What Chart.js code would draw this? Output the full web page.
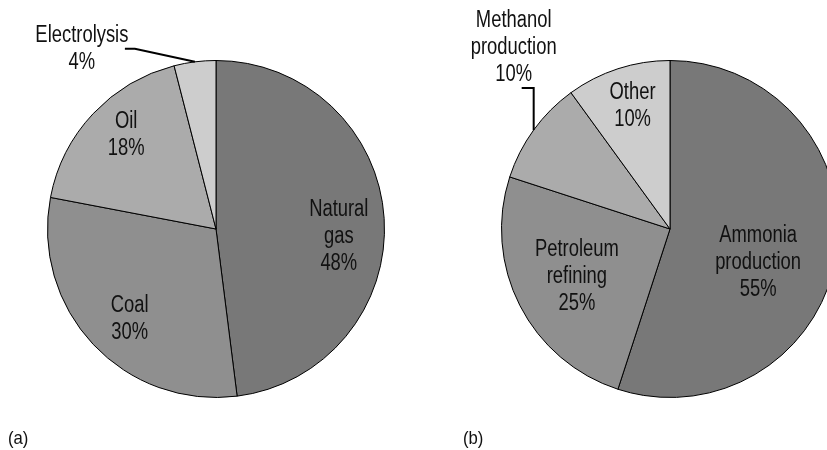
<!DOCTYPE html>
<html>
<head>
<meta charset="utf-8">
<script src="https://cdn.jsdelivr.net/npm/chart.js@4/dist/chart.umd.min.js"></script>
<style>
  html, body { margin: 0; padding: 0; background: #fff; }
  #wrap { position: relative; width: 827px; height: 450px; overflow: hidden; }
  canvas { position: absolute; top: 0; }
  #pieA { left: 0; }
  #pieB { left: 413px; }
  .tag { position: absolute; top: 427px; font: 19px "Liberation Sans", Arial, sans-serif; color: #111;
         transform: scaleX(0.88); transform-origin: left top; }
</style>
</head>
<body>
<div id="wrap">
  <canvas id="pieA" width="420" height="450"></canvas>
  <canvas id="pieB" width="460" height="450"></canvas>
  <div class="tag" style="left:8px">(a)</div>
  <div class="tag" style="left:463px">(b)</div>
</div>
<script>
// Data
const sourceLabels = ['Natural gas', 'Coal', 'Oil', 'Electrolysis'];
const sourceValues = [48, 30, 18, 4];
const useLabels = ['Ammonia production', 'Petroleum refining', 'Methanol production', 'Other'];
const useValues = [55, 25, 10, 10];

// how each label is broken into lines on the chart
const sourceLines = [['Natural', 'gas'], ['Coal'], ['Oil'], ['Electrolysis']];
const useLines = [['Ammonia', 'production'], ['Petroleum', 'refining'], ['Methanol', 'production'], ['Other']];

const greys = ['#787878', '#8f8f8f', '#ababab', '#cdcdcd'];

// label placement: r = fraction of radius, shift = degrees off the slice middle
const sourcePlace = [
    { r: 0.73, shift: 7 },
    { r: 0.74, shift: -3 },
    { r: 0.77, shift: 3 },
    { callout: { path: [[-60, -13], [-70, -13]], text: [-113, -13] } }
];
const usePlace = [
    { r: 0.56, shift: 12 },
    { r: 0.62, shift: 0 },
    { callout: { path: [[0, -42], [-12, -42]], text: [-20, -82] } },
    { r: 0.76, shift: 1 }
];

const lineH = 27;
const narrow = 0.8; // the original uses a condensed face

function sliceLabels(lines, place) {
    return {
        id: 'sliceLabels',
        afterDatasetsDraw(chart) {
            const ctx = chart.ctx;
            const meta = chart.getDatasetMeta(0);
            const values = chart.data.datasets[0].data;
            ctx.save();
            ctx.font = '23px "Liberation Sans", Arial, sans-serif';
            ctx.fillStyle = '#111';
            ctx.textAlign = 'center';
            ctx.textBaseline = 'middle';
            meta.data.forEach((arc, i) => {
                const p = arc.getProps(['x', 'y', 'startAngle', 'endAngle', 'outerRadius'], true);
                const mid = (p.startAngle + p.endAngle) / 2;
                const txt = lines[i].concat(values[i] + '%');
                const pl = place[i];
                let cx, cy;
                if (pl.callout) {
                    const ex = p.x + Math.cos(mid) * p.outerRadius;
                    const ey = p.y + Math.sin(mid) * p.outerRadius;
                    ctx.beginPath();
                    ctx.moveTo(ex, ey);
                    pl.callout.path.forEach(pt => ctx.lineTo(ex + pt[0], ey + pt[1]));
                    ctx.strokeStyle = '#000';
                    ctx.lineWidth = 2;
                    ctx.stroke();
                    cx = ex + pl.callout.text[0];
                    cy = ey + pl.callout.text[1];
                } else {
                    const a = mid + pl.shift * Math.PI / 180;
                    cx = p.x + Math.cos(a) * p.outerRadius * pl.r;
                    cy = p.y + Math.sin(a) * p.outerRadius * pl.r;
                }
                txt.forEach((t, k) => {
                    ctx.save();
                    ctx.translate(cx, cy + (k - (txt.length - 1) / 2) * lineH);
                    ctx.scale(narrow, 1);
                    ctx.fillText(t, 0, 0);
                    ctx.restore();
                });
            });
            ctx.restore();
        }
    };
}

function makePie(id, labels, values, lines, place, padding) {
    return new Chart(document.getElementById(id).getContext('2d'), {
        type: 'pie',
        data: {
            labels: labels,
            datasets: [{
                data: values,
                backgroundColor: greys,
                borderColor: '#000',
                borderWidth: 1
            }]
        },
        options: {
            responsive: false,
            animation: false,
            layout: { padding: padding },
            plugins: {
                legend: { display: false },
                tooltip: { enabled: false }
            }
        },
        plugins: [sliceLabels(lines, place)]
    });
}

makePie('pieA', sourceLabels, sourceValues, sourceLines, sourcePlace,
    { left: 47, right: 35, top: 60, bottom: 52 });
makePie('pieB', useLabels, useValues, useLines, usePlace,
    { left: 88, right: 34, top: 60, bottom: 52 });
</script>
</body>
</html>
